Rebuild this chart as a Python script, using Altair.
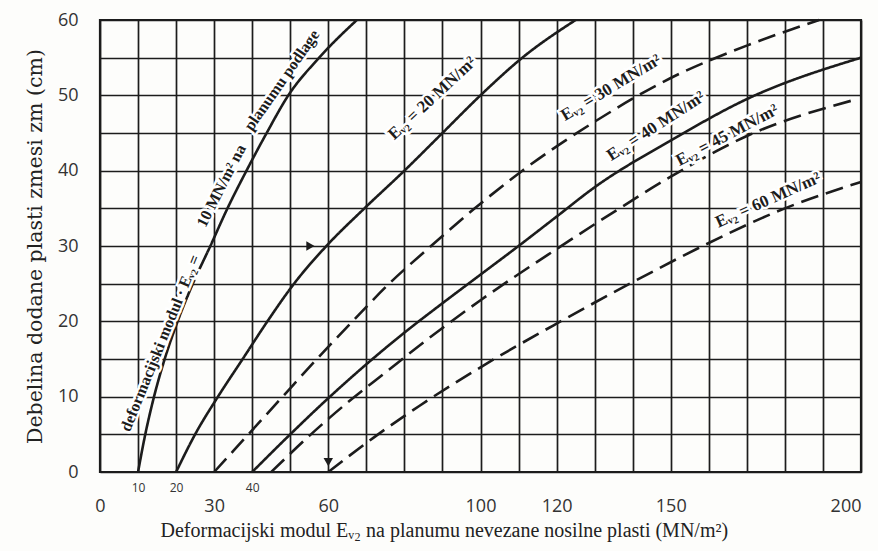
import altair as alt
import pandas as pd

# ---- data ----
curve_names = ["E10", "E20", "E30", "E40", "E45", "E60"]
curve_style = ["solid", "solid", "dashed", "solid", "dashed", "dashed"]

e10_x = [10, 11.9, 14.2, 17.0, 20.4, 24.4, 29.0, 33.5, 38.5, 43.8, 49.5, 57.6, 67.5]
e10_y = [0, 5, 10, 15, 20, 25, 30, 35, 40, 45, 50, 55, 60]
e20_x = [20, 25, 31, 37.5, 44, 51, 59.5, 69.5, 80, 90, 100, 111, 125]
e20_y = [0, 5, 10, 15, 20, 25, 30, 35, 40, 45, 50, 55, 60]
e30_x = [30, 39, 48, 57, 66, 76, 87, 98.5, 111, 130, 150, 170, 189]
e30_y = [0, 5, 10, 15, 19.8, 25, 30, 35, 40, 46.5, 52.3, 56.6, 60]
e40_x = [40, 50, 60, 70, 80, 90, 100, 110, 120, 130, 150, 170, 200]
e40_y = [0, 5, 9.8, 14.3, 18.5, 22.4, 26.2, 30, 33.9, 37.8, 44, 49.5, 55]
e45_x = [45, 55, 65, 75, 85, 100, 120, 135, 150, 170, 199]
e45_y = [0, 4.8, 9.2, 13.2, 17.2, 22.8, 29.6, 34.5, 39.2, 44.6, 49.5]
e60_x = [60, 72, 84, 100, 120, 140, 160, 180, 200]
e60_y = [0, 4.6, 8.8, 13.9, 19.7, 25.2, 30.4, 35, 38.5]

curve_xs = [e10_x, e20_x, e30_x, e40_x, e45_x, e60_x]
curve_ys = [e10_y, e20_y, e30_y, e40_y, e45_y, e60_y]

# curve labels (text, x, y, rotation in degrees)
lab_text = ["Eᵥ₂  =  20  MN/m²", "Eᵥ₂  =  30  MN/m²", "Eᵥ₂  =  40  MN/m²",
            "Eᵥ₂  =  45  MN/m²", "Eᵥ₂  =  60  MN/m²"]
lab_x = [87.3, 134.3, 146.1, 164.8, 175.6]
lab_y = [49.6, 51.0, 45.9, 44.7, 36.1]
lab_angle = [317, 329, 327, 332, 336]

e10_text = ["deformacijski modul · Eᵥ₂  =", "10  MN/m²  na", "planumu  podlage"]
e10_lx = [15.9, 31.9, 47.8]
e10_ly = [17.1, 38.0, 52.0]
e10_angle = [292, 297, 305]

# arrow heads
arrow_x = [55.3, 60]
arrow_y = [30, 1.3]
arrow_shape = ["triangle-right", "triangle-down"]

grid_x = list(range(0, 201, 10))
grid_y = list(range(0, 61, 5))
big_x_labels = [0, 30, 60, 100, 120, 150, 200]
small_x_labels = [10, 20, 40]

# ---- tables ----
rows = []
for name, style, xs, ys in zip(curve_names, curve_style, curve_xs, curve_ys):
    for i, (xv, yv) in enumerate(zip(xs, ys)):
        rows.append({"curve": name, "style": style, "x": xv, "y": yv, "order": i})
df = pd.DataFrame(rows)
labels = pd.DataFrame({"text": lab_text, "x": lab_x, "y": lab_y, "angle": lab_angle})
labels10 = pd.DataFrame({"text": e10_text, "x": e10_lx, "y": e10_ly, "angle": e10_angle})
arrows = pd.DataFrame({"x": arrow_x, "y": arrow_y, "shape": arrow_shape})

x_scale = alt.Scale(domain=[0, 200], nice=False, zero=False)
y_scale = alt.Scale(domain=[0, 60], nice=False, zero=False)

INK = "#1c1c1c"
big_list = "[" + ",".join(str(v) for v in big_x_labels) + "]"
small_list = "[" + ",".join(str(v) for v in small_x_labels) + "]"
x_label_expr = (f"indexof({small_list}, datum.value) >= 0 ? datum.label : "
                f"(indexof({big_list}, datum.value) >= 0 ? ['', datum.label] : '')")

X_AXIS = alt.Axis(
    values=grid_x, grid=True, gridColor=INK, gridWidth=1.7, gridOpacity=1,
    ticks=False, domain=False, labelExpr=x_label_expr,
    labelFont="Open Sans", labelColor="#333333", labelPadding=10,
    labelFontSize={"condition": {"test": f"indexof({small_list}, datum.value) >= 0", "value": 12},
                   "value": 18},
    labelAlign={"condition": {"test": f"datum.value == {max(big_x_labels)}", "value": "right"},
                "value": "center"},
    labelLineHeight=15, labelBaseline="top", labelFlush=False, labelOverlap=False,
    title="Deformacijski modul Eᵥ₂ na planumu nevezane nosilne plasti (MN/m²)",
    titleFont="Liberation Serif", titleFontSize=20, titleFontWeight="normal",
    titleColor="#222222", titleAnchor="start", titleAlign="left", titleX=60,
    titleY=58, titleBaseline="middle")

Y_AXIS = alt.Axis(
    values=grid_y, grid=True, gridColor=INK, gridWidth=1.7, gridOpacity=1,
    ticks=False, domain=False,
    labelExpr="datum.value % 10 === 0 ? datum.label : ''",
    labelFont="Open Sans", labelFontSize=18, labelColor="#333333", labelPadding=22,
    labelFlush=False, labelOverlap=False,
    title="Debelina dodane plasti zmesi zm (cm)",
    titleFont="DejaVu Serif", titleFontSize=20.5, titleFontWeight="normal",
    titleColor="#222222", titlePadding=12)

lines = alt.Chart(df).mark_line(strokeWidth=2.6, color=INK, interpolate="monotone").encode(
    x=alt.X("x:Q", scale=x_scale, axis=X_AXIS),
    y=alt.Y("y:Q", scale=y_scale, axis=Y_AXIS),
    detail="curve:N",
    order="order:Q",
    strokeDash=alt.StrokeDash("style:N", scale=alt.Scale(domain=["solid", "dashed"],
                                                         range=[[1, 0], [18, 8]]), legend=None),
)

heads = alt.Chart(arrows).mark_point(filled=True, size=90, color=INK, opacity=1).encode(
    x=alt.X("x:Q", scale=x_scale, axis=X_AXIS),
    y=alt.Y("y:Q", scale=y_scale, axis=Y_AXIS),
    shape=alt.Shape("shape:N", scale=None, legend=None),
)

def text_layers(data, size):
    base = alt.Chart(data).encode(
        x=alt.X("x:Q", scale=x_scale, axis=X_AXIS),
        y=alt.Y("y:Q", scale=y_scale, axis=Y_AXIS),
        text="text:N",
        angle=alt.Angle("angle:Q", scale=None),
    )
    halo = base.mark_text(font="Liberation Serif", fontWeight="bold", fontSize=size,
                          color="white", stroke="white", strokeWidth=5,
                          align="center", baseline="middle")
    ink = base.mark_text(font="Liberation Serif", fontWeight="bold", fontSize=size,
                         color=INK, align="center", baseline="middle")
    return [halo, ink]

chart = alt.layer(
    lines, heads, *text_layers(labels, 17), *text_layers(labels10, 16)
).properties(
    width=761, height=452,
    autosize=alt.AutoSizeParams(type="none"),
    padding={"left": 100, "top": 20, "right": 17, "bottom": 79},
    background="#fdfdfb",
).configure_view(stroke=INK, strokeWidth=2.2)

chart.save("out.html", embed_options={"renderer": "svg", "actions": False})
